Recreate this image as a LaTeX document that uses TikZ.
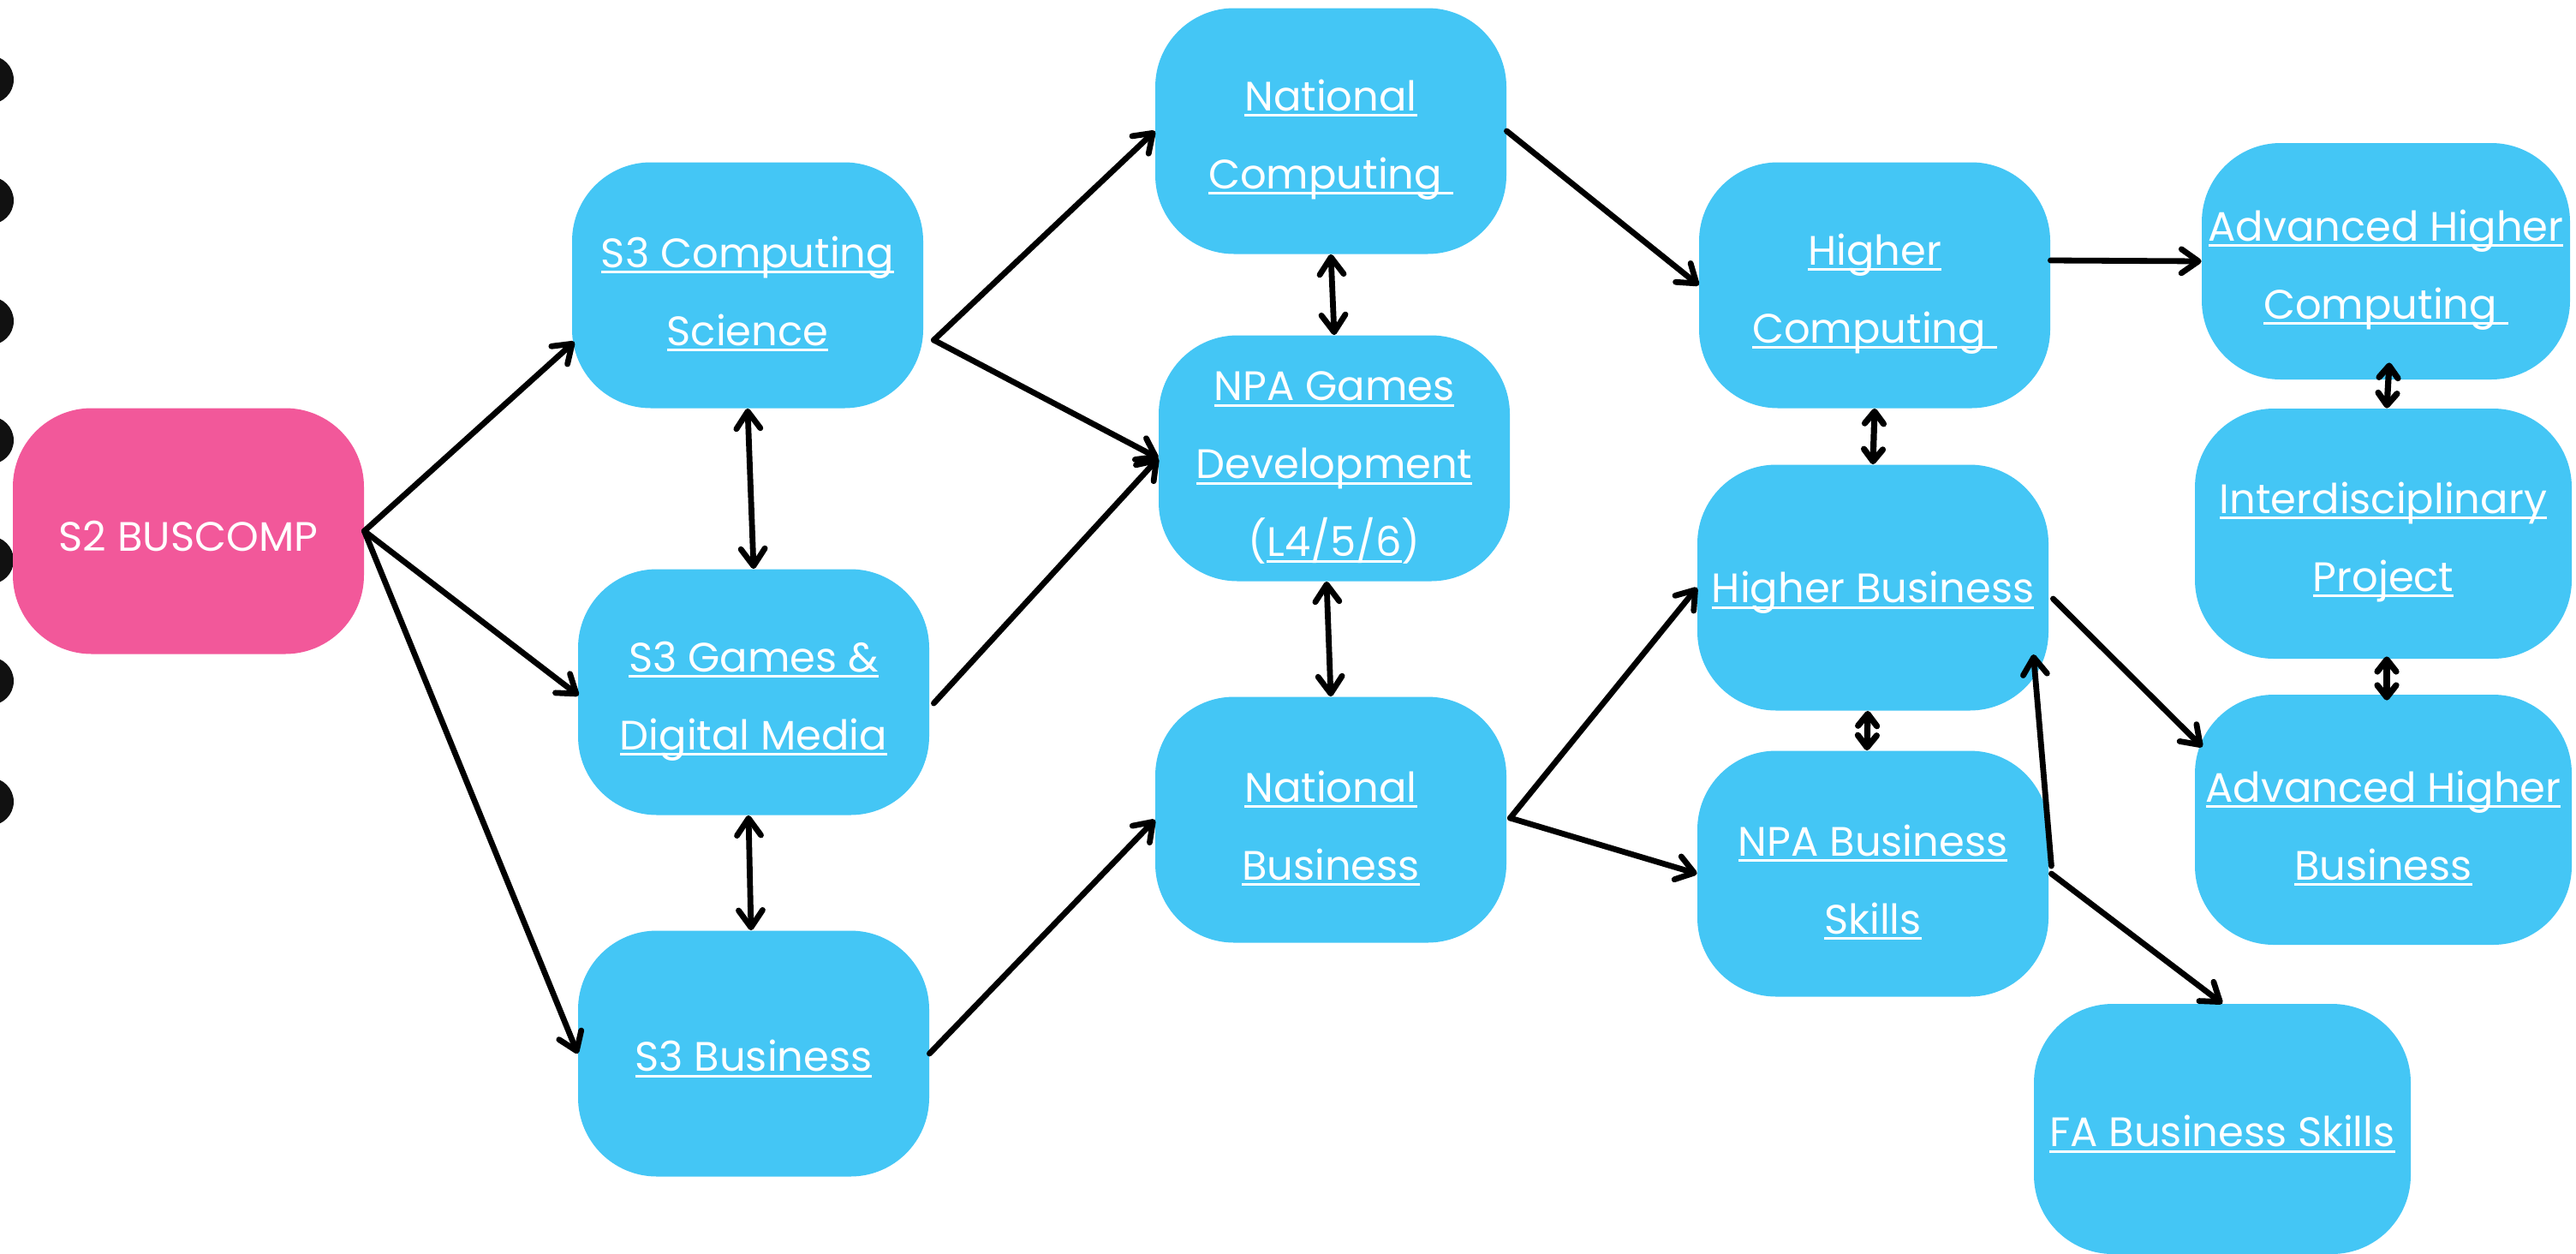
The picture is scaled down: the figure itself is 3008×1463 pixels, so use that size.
\documentclass[tikz,border=0pt]{standalone}
\usepackage{fontspec}
\setmainfont{Poppins}
\usetikzlibrary{arrows.meta,calc}
\definecolor{cblue}{RGB}{68,198,245}
\definecolor{cpink}{RGB}{242,88,154}
\definecolor{dotc}{RGB}{17,17,17}
\newcommand\myul[1]{\leavevmode\begingroup\setbox0=\hbox{#1}\rlap{\rule[-3.5pt]{\wd0}{1.5pt}}\box0\endgroup}
\newcommand\fsa{\rule{0pt}{24pt}}
\newcommand\fsb{\rule{0pt}{28pt}}
\begin{document}
\begin{tikzpicture}[x=0.5pt,y=-0.5pt,
  box/.style={rounded corners=46pt, fill=cblue, text=white, minimum width=205pt,
    minimum height=143.5pt, align=center, inner sep=0pt,
    font=\fontsize{24}{45.5}\selectfont},
  pinkbox/.style={box, fill=cpink},
  widebox/.style={box, minimum width=220pt, minimum height=146pt},
  conn/.style={line width=3.4pt, line cap=round, line join=round,
    -{Straight Barb[length=10pt,width=14pt,round]}},
  dconn/.style={line width=3.4pt, line cap=round,
    {Straight Barb[length=10pt,width=14pt,round]}-{Straight Barb[length=10pt,width=14pt,round]}},
  sdconn/.style={line width=3.6pt, line cap=round,
    {Straight Barb[length=7pt,width=11pt,round]}-{Straight Barb[length=7pt,width=11pt,round]}}]
\useasboundingbox (0,0) rectangle (3008,1463);
\fill[white] (0,0) rectangle (3008,1463);
\foreach \yy in {93,234,375,514,654,795,936}
  \fill[dotc] (-12,\yy) circle[radius=14pt];

\node[pinkbox] (s2) at (220,620) {\fsa S2 BUSCOMP};
\node[box] (s3cs) at (873,333) {\fsb\myul{S3 Computing}\\\myul{Science}};
\node[box] (s3gdm) at (880,808) {\fsb\myul{S3 Games \&}\\\myul{Digital Media}};
\node[box] (s3b) at (880,1230) {\fsa\myul{S3 Business}};
\node[box] (natc) at (1554,153) {\fsb\myul{National}\\\myul{Computing\ }};
\node[box] (npag) at (1558,535) {\fsb\myul{NPA Games}\\\myul{Development}\\(\myul{L4/5/6})};
\node[box] (natb) at (1554,957) {\fsb\myul{National}\\\myul{Business}};
\node[box] (highc) at (2189,333) {\fsb\myul{Higher}\\\myul{Computing\ }};
\node[box] (highb) at (2187,686) {\fsa\myul{Higher Business}};
\node[box] (npab) at (2187,1020) {\fsb\myul{NPA Business}\\\myul{Skills}};
\node[box, minimum width=215pt, minimum height=138pt] (ahc) at (2786,305) {\fsb\myul{Advanced Higher}\\\myul{Computing\ }};
\node[widebox] (inter) at (2783,623) {\fsb\myul{Interdisciplinary}\\\myul{Project}};
\node[widebox] (ahb) at (2783,957) {\fsb\myul{Advanced Higher}\\\myul{Business}};
\node[widebox] (fa) at (2595,1318) {\fsa\myul{FA Business Skills}};

\coordinate (c1) at ($(s3cs.east)+(12,64)$);
\coordinate (c2) at ($(natb.east)+(4,-2)$);
\coordinate (c3) at ($(npab.east)+(3,0)$);

\draw[conn] (s2.east) -- ($(s3cs.west)+(3,66)$);
\draw[conn] (s2.east) -- ($(s3gdm.west)+(1,4)$);
\draw[conn] (s2.east) -- (s3b.west);
\draw[dconn] (s3cs.south) -- (s3gdm.north);
\draw[dconn] ($(s3gdm.south)+(-6,0)$) -- ($(s3b.north)+(-3,0)$);
\draw[conn] (c1) -- (natc.west);
\draw[conn] (c1) -- (npag.west);
\draw[conn] ($(s3gdm.east)+(5,13)$) -- (npag.west);
\draw[conn] (s3b.east) -- (natb.west);
\draw[dconn] (natc.south) -- (npag.north);
\draw[dconn] ($(npag.south)+(-9,0)$) -- (natb.north);
\draw[conn] (natc.east) -- (highc.west);
\draw[conn] (c2) -- (highb.west);
\draw[conn] (c2) -- (npab.west);
\draw[sdconn] (highc.south) -- (highb.north);
\draw[sdconn] ($(highb.south)+(-6,0)$) -- ($(npab.north)+(-7,0)$);
\draw[conn] ($(highc.east)+(0,-29)$) -- (ahc.west);
\draw[conn] ($(highb.east)+(5,13)$) -- ($(ahb.west)+(9,-85)$);
\draw[conn] ($(npab.east)+(3,-9)$) -- ($(highb.east)+(-18,78)$);
\draw[conn] (c3) -- (fa.north);
\draw[sdconn] ($(ahc.south)+(4,-20)$) -- ($(inter.north)+(4,0)$);
\draw[sdconn] ($(inter.south)+(4,-3)$) -- ($(ahb.north)+(4,7)$);
\end{tikzpicture}
\end{document}
